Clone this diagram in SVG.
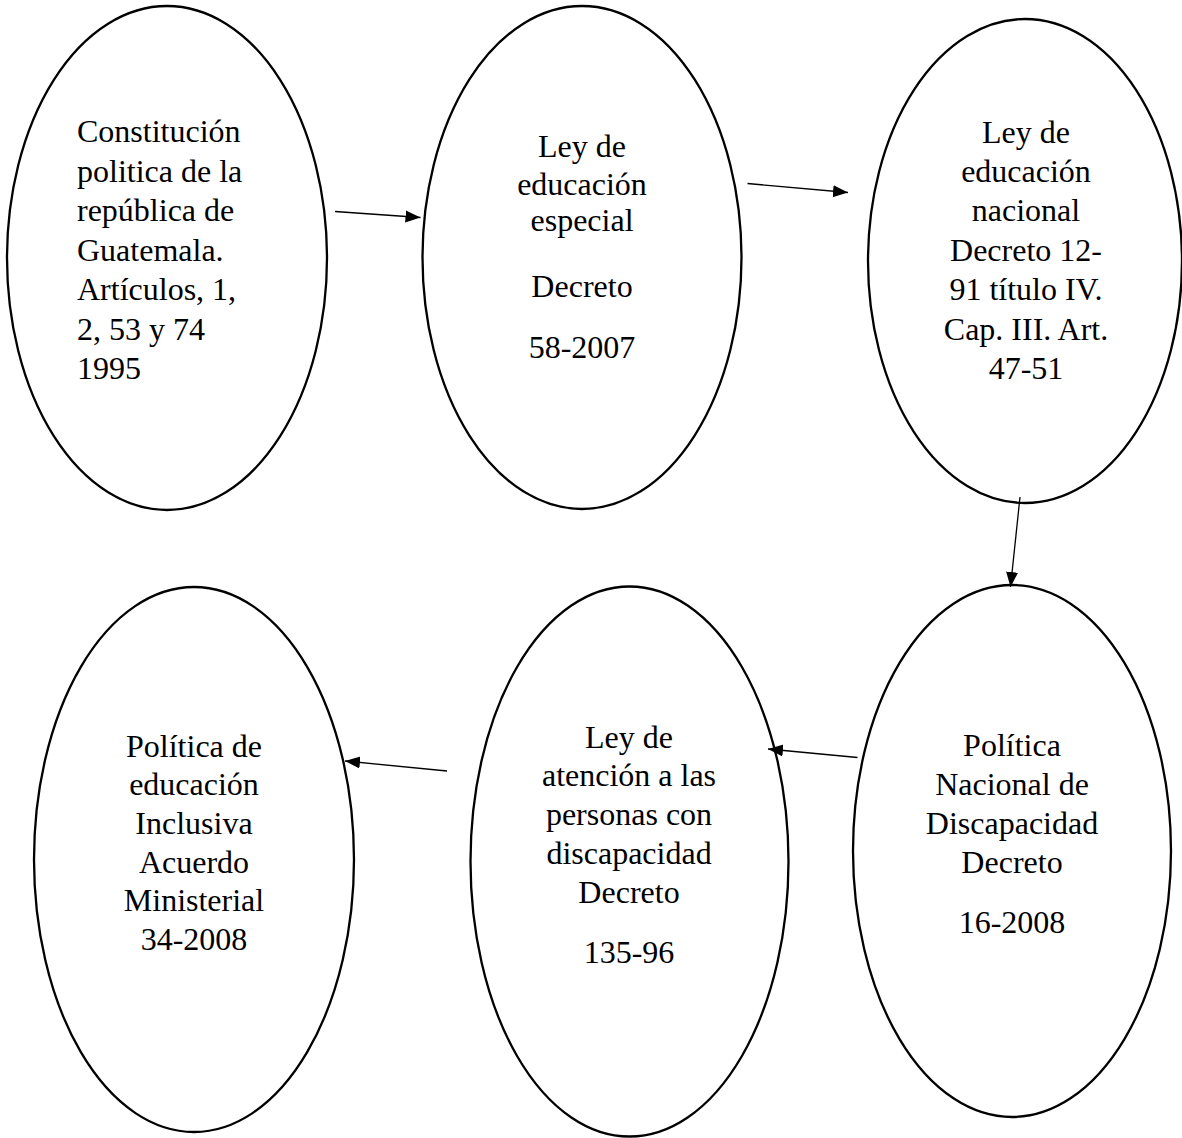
<svg xmlns="http://www.w3.org/2000/svg" width="1182" height="1138" viewBox="0 0 1182 1138">
<style>
.node ellipse{fill:#fff;stroke:#000;stroke-width:2.3}
.node text{font-family:"Liberation Serif","Times New Roman",serif;font-size:32px;fill:#000}
.c{text-anchor:middle}
.edge line{stroke:#000;stroke-width:1.3}
</style>
<defs>
<marker id="ah" markerUnits="userSpaceOnUse" markerWidth="16" markerHeight="13" refX="15" refY="6" orient="auto" viewBox="0 0 16 13">
<path d="M0,0 L15,6 L0,12 z" fill="#000"/>
</marker>
</defs>
<rect width="1182" height="1138" fill="#fff"/>
<g id="n1" class="node">
<ellipse cx="167" cy="258" rx="160" ry="252"/>
<text x="77" y="142">Constitución</text>
<text x="77" y="181.5">politica de la</text>
<text x="77" y="221">república de</text>
<text x="77" y="260.5">Guatemala.</text>
<text x="77" y="300">Artículos, 1,</text>
<text x="77" y="339.5">2, 53 y 74</text>
<text x="77" y="379">1995</text>
</g>
<g id="n2" class="node">
<ellipse cx="582" cy="257.5" rx="159.5" ry="251.5"/>
<text class="c" x="582" y="157">Ley de</text>
<text class="c" x="582" y="195">educación</text>
<text class="c" x="582" y="231">especial</text>
<text class="c" x="582" y="297">Decreto</text>
<text class="c" x="582" y="358">58-2007</text>
</g>
<g id="n3" class="node">
<ellipse cx="1025" cy="261" rx="157" ry="242"/>
<text class="c" x="1026" y="143">Ley de</text>
<text class="c" x="1026" y="182">educación</text>
<text class="c" x="1026" y="221">nacional</text>
<text class="c" x="1026" y="260.5">Decreto 12-</text>
<text class="c" x="1026" y="300">91 título IV.</text>
<text class="c" x="1026" y="339.5">Cap. III. Art.</text>
<text class="c" x="1026" y="379">47-51</text>
</g>
<g id="n4" class="node">
<ellipse cx="194" cy="859.5" rx="160" ry="272.5"/>
<text class="c" x="194" y="756.5">Política de</text>
<text class="c" x="194" y="795">educación</text>
<text class="c" x="194" y="834">Inclusiva</text>
<text class="c" x="194" y="872.5">Acuerdo</text>
<text class="c" x="194" y="911">Ministerial</text>
<text class="c" x="194" y="949.5">34-2008</text>
</g>
<g id="n5" class="node">
<ellipse cx="629.5" cy="861.5" rx="159" ry="275"/>
<text class="c" x="629" y="748">Ley de</text>
<text class="c" x="629" y="786">atención a las</text>
<text class="c" x="629" y="825">personas con</text>
<text class="c" x="629" y="864">discapacidad</text>
<text class="c" x="629" y="902.5">Decreto</text>
<text class="c" x="629" y="963">135-96</text>
</g>
<g id="n6" class="node">
<ellipse cx="1012" cy="851" rx="159" ry="266"/>
<text class="c" x="1012" y="756">Política</text>
<text class="c" x="1012" y="795">Nacional de</text>
<text class="c" x="1012" y="834">Discapacidad</text>
<text class="c" x="1012" y="872.5">Decreto</text>
<text class="c" x="1012" y="933">16-2008</text>
</g>
<g id="edges" class="edge">
<line x1="335" y1="211.5" x2="420.5" y2="217.5" marker-end="url(#ah)"/>
<line x1="747.5" y1="183.5" x2="848" y2="192.5" marker-end="url(#ah)"/>
<line x1="1020" y1="497" x2="1010.5" y2="587" marker-end="url(#ah)"/>
<line x1="857.5" y1="757.5" x2="768" y2="749" marker-end="url(#ah)"/>
<line x1="447" y1="771" x2="345" y2="761" marker-end="url(#ah)"/>
</g>
</svg>
